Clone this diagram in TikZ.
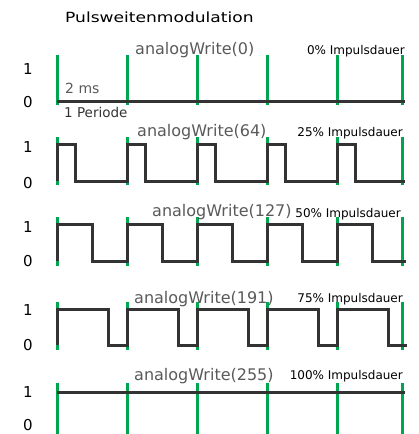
\documentclass[tikz,border=0pt]{standalone}
\usepackage{fontspec}
\setmainfont{DejaVu Sans}
\definecolor{grn}{RGB}{0,165,80}
\definecolor{wavec}{RGB}{51,51,51}
\definecolor{lbl}{RGB}{90,90,90}
\begin{document}
\begin{tikzpicture}[x=1pt,y=-1pt,
  wave/.style={line width=3pt,draw=wavec,line join=miter},
  tickline/.style={draw=grn,line width=2.3pt},
  fn/.style={font=\fontsize{16}{16}\selectfont,text=lbl,inner sep=0pt,anchor=base west},
  duty/.style={font=\fontsize{12}{12}\selectfont,inner sep=0pt,anchor=base east},
  lev/.style={font=\fontsize{15}{15}\selectfont,inner sep=0pt,anchor=base},
  small/.style={font=\fontsize{14}{14}\selectfont,inner sep=0pt,anchor=base west}]
\useasboundingbox (0,0) rectangle (419,434);
\node[inner sep=0pt,anchor=base west,font=\fontsize{14}{14}\selectfont] (title) at (65,22) {\scalebox{1.22}[1]{Pulsweitenmodulation}};
% green period markers
\foreach \x in {57.5,127.5,197.5,267.5,337.5,402.5}{
  \draw[tickline] (\x,55) -- (\x,105)  (\x,137) -- (\x,185)  (\x,217) -- (\x,266)  (\x,302) -- (\x,350)  (\x,383) -- (\x,434);
}
% panel 1: 0%
\draw[wave] (57,101) -- (405,101);
\node[fn] (f1) at (135,54) {analogWrite(0)};
\node[duty] (d1) at (405,54) {0\% Impulsdauer};
\node[lev] (h1) at (28,74) {1};
\node[lev] (l1) at (28,107) {0};
\node[small,text=lbl] (ms) at (65,93) {2 ms};
\node[inner sep=0pt,anchor=base west,font=\fontsize{13.5}{13.5}\selectfont,text=wavec] (per) at (64,117) {1 Periode};
% panel 2: 25%
\draw[wave] (57.5,181) -- (57.5,144) -- (75.5,144) -- (75.5,181) -- (127.5,181) -- (127.5,144) -- (145.5,144) -- (145.5,181)
  -- (197.5,181) -- (197.5,144) -- (215.5,144) -- (215.5,181) -- (267.5,181) -- (267.5,144) -- (285.5,144) -- (285.5,181)
  -- (337.5,181) -- (337.5,144) -- (355.5,144) -- (355.5,181) -- (405,181);
\node[fn] (f2) at (137,136) {analogWrite(64)};
\node[duty] (d2) at (403,136) {25\% Impulsdauer};
\node[lev] (h2) at (28,152) {1};
\node[lev] (l2) at (28,188) {0};
% panel 3: 50%
\draw[wave] (57.5,261) -- (57.5,224) -- (92.5,224) -- (92.5,261) -- (127.5,261) -- (127.5,224) -- (162.5,224) -- (162.5,261)
  -- (197.5,261) -- (197.5,224) -- (232.5,224) -- (232.5,261) -- (267.5,261) -- (267.5,224) -- (302.5,224) -- (302.5,261)
  -- (337.5,261) -- (337.5,224) -- (372.5,224) -- (372.5,261) -- (406,261);
\node[fn] (f3) at (152,216) {analogWrite(127)};
\node[duty] (d3) at (401,217) {50\% Impulsdauer};
\node[lev] (h3) at (28,232) {1};
\node[lev] (l3) at (28,266) {0};
% panel 4: 75%
\draw[wave] (57.5,345) -- (57.5,309) -- (108.5,309) -- (108.5,345) -- (127.5,345) -- (127.5,309) -- (178.5,309) -- (178.5,345)
  -- (197.5,345) -- (197.5,309) -- (248.5,309) -- (248.5,345) -- (267.5,345) -- (267.5,309) -- (318.5,309) -- (318.5,345)
  -- (337.5,345) -- (337.5,309) -- (388.5,309) -- (388.5,345) -- (407,345);
\node[fn] (f4) at (134,303) {analogWrite(191)};
\node[duty] (d4) at (403,302) {75\% Impulsdauer};
\node[lev] (h4) at (28,315) {1};
\node[lev] (l4) at (28,350) {0};
% panel 5: 100%
\draw[wave] (57,392) -- (405,392);
\node[fn] (f5) at (134,380) {analogWrite(255)};
\node[duty] (d5) at (403,379) {100\% Impulsdauer};
\node[lev] (h5) at (28,397) {1};
\node[lev] (l5) at (28,430) {0};
\end{tikzpicture}
\end{document}
